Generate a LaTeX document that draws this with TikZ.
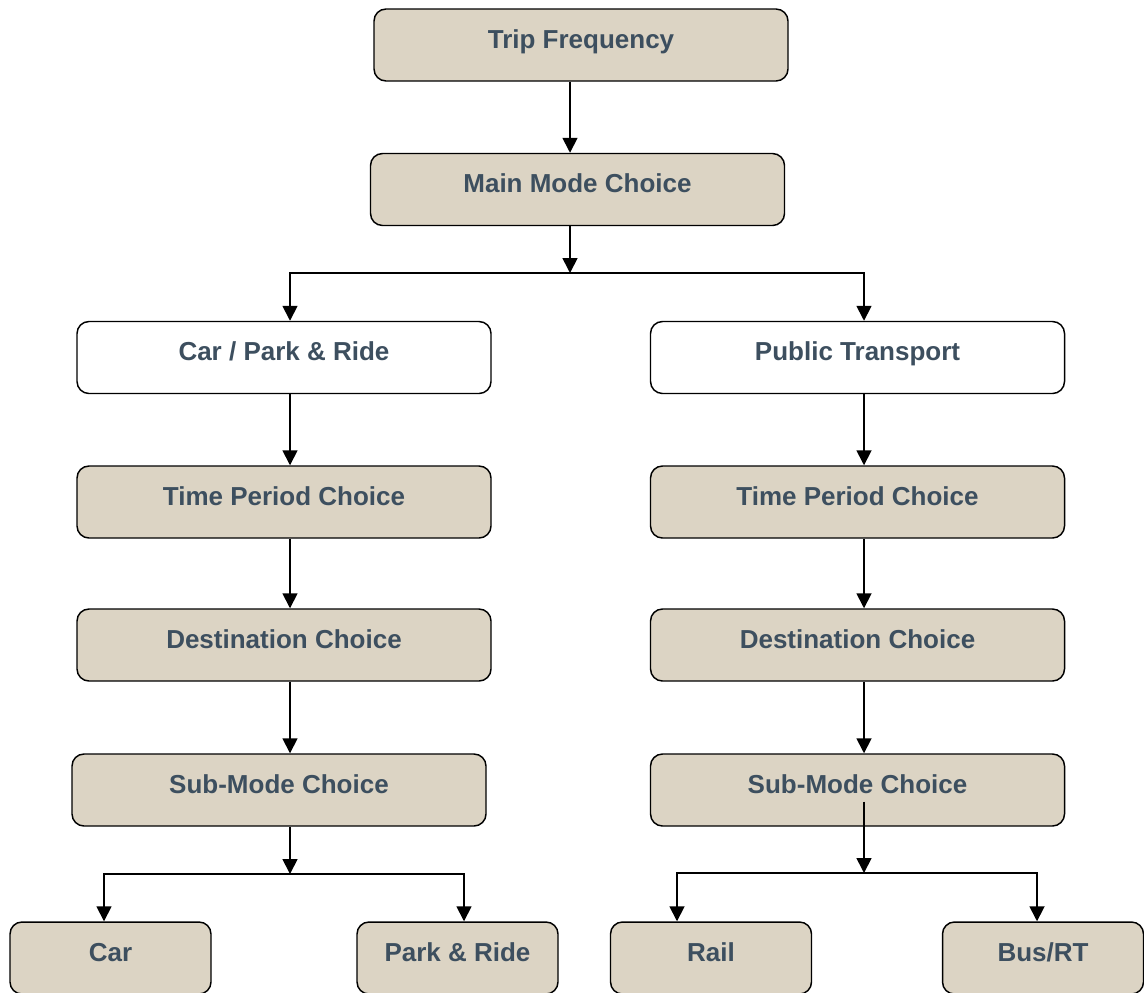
\documentclass[tikz,border=0pt]{standalone}
\usepackage{fontspec}
\setmainfont{Liberation Sans}
\usetikzlibrary{arrows.meta,calc}
\definecolor{boxfill}{RGB}{220,212,196}
\definecolor{boxtext}{RGB}{61,79,95}
\begin{document}
\begin{tikzpicture}[x=0.75pt,y=-0.75pt,
  box/.style={draw=black, line width=1.1pt, rounded corners=9pt, fill=boxfill,
    minimum height=54pt, inner sep=0pt,
    font=\bfseries\fontsize{19.5}{22}\selectfont, text=boxtext,
    text height=12pt, text depth=7.5pt},
  wide/.style={minimum width=310.5pt},
  narrow/.style={minimum width=150.75pt},
  plain/.style={fill=white},
  link/.style={line width=1.3pt, draw=black},
  arr/.style={link, -{Triangle[width=11.25pt,length=11.25pt]}}]
\useasboundingbox (0,0) rectangle (1144,992);

% top of the hierarchy
\node[box,wide] (tf) at (581,45) {Trip Frequency};
\node[box,wide] (mm) at (577.5,189.5) {Main Mode Choice};

% two branches
\node[box,wide,plain] (cpr) at (284,357.5) {Car / Park \& Ride};
\node[box,wide,plain] (pt)  at (857.5,357.5) {Public Transport};
\node[box,wide] (tpl) at (284,502) {Time Period Choice};
\node[box,wide] (tpr) at (857.5,502) {Time Period Choice};
\node[box,wide] (dcl) at (284,645) {Destination Choice};
\node[box,wide] (dcr) at (857.5,645) {Destination Choice};
\node[box,wide] (sml) at (279,790) {Sub-Mode Choice};
\node[box,wide] (smr) at (857.5,790) {Sub-Mode Choice};

% sub-modes
\node[box,narrow] (car)  at (110.5,958) {Car};
\node[box,narrow] (pr)   at (457.5,958) {Park \& Ride};
\node[box,narrow] (rail) at (711,958) {Rail};
\node[box,narrow] (bus)  at (1043,958) {Bus/RT};

% junction points of the connectors
\coordinate (j0) at (570,273);
\coordinate (jl) at (290,874);
\coordinate (jr) at (864,873);

\draw[arr] (tf.south -| j0) -- (mm.north -| j0);
\draw[arr] (mm.south -| j0) -- (j0);
\draw[arr] (j0) -| (cpr.north -| jl);
\draw[arr] (j0) -| (pt.north -| jr);

\draw[arr] (cpr.south -| jl) -- (tpl.north -| jl);
\draw[arr] (tpl.south -| jl) -- (dcl.north -| jl);
\draw[arr] (dcl.south -| jl) -- (sml.north -| jl);
\draw[arr] (sml.south -| jl) -- (jl);

\draw[arr] (pt.south -| jr) -- (tpr.north -| jr);
\draw[arr] (tpr.south -| jr) -- (dcr.north -| jr);
\draw[arr] (dcr.south -| jr) -- (smr.north -| jr);
\draw[arr] ($(smr.south -| jr)+(0,-25)$) -- (jr);

\draw[arr] (jl) -| ([xshift=-4.875pt]car.north);
\draw[arr] (jl) -| ([xshift=4.875pt]pr.north);
\draw[arr] (jr) -| ([xshift=-25.5pt]rail.north);
\draw[arr] (jr) -| ([xshift=-4.5pt]bus.north);
\end{tikzpicture}
\end{document}
